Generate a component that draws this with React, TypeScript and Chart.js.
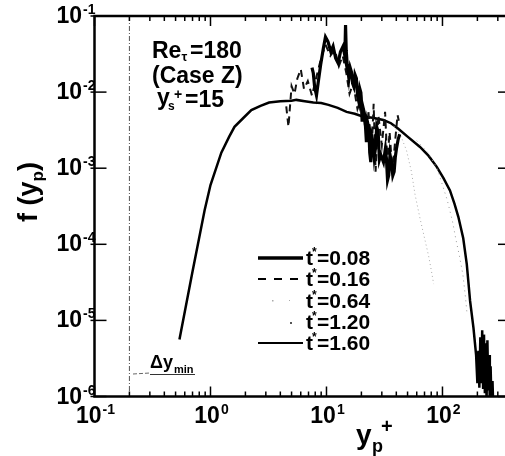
import React, { useEffect, useRef } from 'react';
import { Chart, registerables } from 'chart.js';
Chart.register(...registerables);

// ---- axis ranges / ticks ----
const X_MIN = 0.1;
const X_MAX = 360;
const Y_MIN = 1e-6;
const Y_MAX = 0.1;
const X_DECADES = [-1, 0, 1, 2];
const Y_DECADES = [-1, -2, -3, -4, -5, -6];
const DY_MIN = 0.2;

// ---- series labels ----
const T_LABELS = ['0.08', '0.16', '0.64', '1.20', '1.60'];

// ---- t*=0.08 (thick solid) ----
const t008X = [7.5, 7.7, 7.9, 8.2, 8.5, 8.9, 9.4, 9.8, 10.3, 10.9, 11.4, 12.0, 12.6, 13.2, 13.9, 14.4, 14.6, 14.8, 15.1, 15.6, 16.0, 16.4, 16.8, 17.2, 17.6, 18.1, 18.5, 19.0, 19.4, 19.8, 20.3, 20.8, 21.4, 22.1, 22.6, 23.2, 23.6, 24.1, 24.6, 25.2, 25.8, 26.4, 27.1, 27.9, 28.6, 29.4, 31.0, 32.2, 32.9, 33.6, 34.4, 35.3, 36.3, 37.3, 38.3, 39.2, 40.1, 41.5, 42.8];
const t008Y = [0.021, 0.0177, 0.0118, 0.0091, 0.0137, 0.0227, 0.0376, 0.053, 0.046, 0.034, 0.040, 0.0278, 0.024, 0.034, 0.040, 0.030, 0.076, 0.035, 0.0227, 0.0152, 0.021, 0.0185, 0.013, 0.0118, 0.017, 0.0152, 0.009, 0.0075, 0.011, 0.0098, 0.0041, 0.006, 0.005, 0.0022, 0.004, 0.0033, 0.0016, 0.0012, 0.0026, 0.0022, 0.0014, 0.0018, 0.0035, 0.003, 0.0013, 0.0015, 0.0012, 0.0018, 0.0013, 0.0007, 0.00081, 0.0015, 0.0012, 0.0008, 0.0009, 0.0014, 0.0018, 0.0024, 0.0028];

// ---- t*=0.16 (dashed) ----
const t016X = [4.5, 4.7, 5.0, 5.3, 5.6, 6.0, 6.4, 6.9, 7.5, 8.2, 9.0, 9.8, 10.8, 11.8, 12.8, 13.8, 14.8, 15.8, 17.0, 18.5, 20, 21.5, 23, 24.5, 25.5, 26.5, 28, 30, 32, 33.5, 35, 37, 39, 41, 42];
const t016Y = [6.5e-3, 3.5e-3, 0.012, 0.0095, 0.015, 0.02, 0.011, 0.014, 0.009, 0.016, 0.028, 0.042, 0.03, 0.036, 0.022, 0.03, 0.018, 0.0095, 0.013, 0.006, 0.0085, 0.0035, 0.0055, 0.0016, 0.007, 0.0009, 0.005, 0.002, 0.0055, 0.0012, 0.003, 0.0009, 0.0022, 0.005, 0.0042];

// ---- t*=0.64 (dotted) ----
const t064X = [38, 44, 49, 54, 58, 64, 71, 76, 80, 84];
const t064Y = [3.6e-3, 2.6e-3, 1.7e-3, 9e-4, 4.5e-4, 2.2e-4, 1.1e-4, 7e-5, 4.6e-5, 3e-5];

// ---- t*=1.20 (dotted) ----
const t120X = [60, 75, 90, 100, 110, 122, 130, 140, 150, 158, 163];
const t120Y = [2.3e-3, 1.6e-3, 1e-3, 6e-4, 3.8e-4, 2e-4, 1.2e-4, 7e-5, 4e-5, 2e-5, 1.2e-5];

// ---- t*=1.60 (thin solid) ----
const t160X = [0.54, 0.7, 0.89, 1.0, 1.24, 1.45, 1.61, 1.9, 2.25, 2.7, 3.2, 4.0, 5.0, 5.5, 6.5, 7.7, 9.0, 10.4, 12.5, 14.9, 17.5, 20.8, 25, 30.9, 36, 41.6, 50, 64, 76, 89, 102, 116, 127, 137, 151, 162, 173, 185, 195, 200, 204, 208, 212, 216, 220, 224, 228, 232, 236, 240, 244, 248, 252, 256, 260, 265, 270, 276];
const t160Y = [5.6e-6, 4.4e-5, 2.8e-4, 6e-4, 1.6e-3, 2.6e-3, 3.5e-3, 4.5e-3, 5.8e-3, 6.6e-3, 7.3e-3, 7.6e-3, 7.7e-3, 7.9e-3, 7.6e-3, 7.3e-3, 7.2e-3, 6.8e-3, 6.2e-3, 5.5e-3, 5.2e-3, 4.75e-3, 4.6e-3, 4.3e-3, 3.9e-3, 3.3e-3, 2.6e-3, 1.9e-3, 1.45e-3, 1.05e-3, 7.4e-4, 5.1e-4, 3.4e-4, 2.3e-4, 1.2e-4, 5.5e-5, 1.8e-5, 8e-6, 3.5e-6, 1.5e-6, 4e-6, 1.3e-6, 6e-6, 1.5e-6, 7.4e-6, 1.3e-6, 6.5e-6, 1.1e-6, 5e-6, 9e-7, 5.5e-6, 1.2e-6, 3.5e-6, 8e-7, 2.5e-6, 7e-7, 1.6e-6, 5e-7];

const FONT = '"Liberation Sans", Arial, sans-serif';

function zip(xs: number[], ys: number[]) {
  const n = Math.min(xs.length, ys.length);
  const out: { x: number; y: number }[] = [];
  for (let i = 0; i < n; i++) out.push({ x: xs[i], y: ys[i] });
  return out;
}

function hline(ctx: CanvasRenderingContext2D, x1: number, y1: number, x2: number, y2: number) {
  ctx.beginPath();
  ctx.moveTo(x1, y1);
  ctx.lineTo(x2, y2);
  ctx.stroke();
}

function drawPow(ctx: CanvasRenderingContext2D, exp: string, x: number, base: number, align: 'center' | 'right') {
  ctx.textAlign = 'left';
  ctx.textBaseline = 'alphabetic';
  ctx.font = `bold 23px ${FONT}`;
  const w1 = ctx.measureText('10').width;
  ctx.font = `bold 14px ${FONT}`;
  const w2 = ctx.measureText(exp).width;
  const total = w1 + w2 + 1;
  const x0 = align === 'center' ? x - total / 2 + 1 : x - total;
  ctx.font = `bold 23px ${FONT}`;
  ctx.fillText('10', x0, base);
  ctx.font = `bold 14px ${FONT}`;
  ctx.fillText(exp, x0 + w1 + 1, base - 9);
}

const decor = {
  id: 'decor',
  beforeDatasetsDraw(chart: any) {
    const { ctx, chartArea: a, scales } = chart;
    const xd = scales.x.getPixelForValue(DY_MIN);
    ctx.save();
    ctx.strokeStyle = '#555';
    ctx.lineWidth = 1;
    ctx.setLineDash([5, 2, 1, 2]);
    hline(ctx, xd, a.top, xd, a.bottom);
    ctx.restore();
  },
  afterDraw(chart: any) {
    const { ctx, chartArea: a, scales } = chart;
    const xs = scales.x;
    const ys = scales.y;
    ctx.save();
    ctx.fillStyle = '#000';
    ctx.strokeStyle = '#000';

    // frame
    ctx.lineWidth = 2.5;
    ctx.strokeRect(a.left, a.top, a.right - a.left, a.bottom - a.top);

    // x ticks (bottom & top, inward)
    ctx.lineWidth = 1.5;
    for (const d of X_DECADES) {
      for (let k = 1; k <= 9; k++) {
        const v = k * Math.pow(10, d);
        if (v < X_MIN || v > X_MAX) continue;
        const px = xs.getPixelForValue(v);
        const len = k === 1 ? 10 : 5;
        hline(ctx, px, a.bottom, px, a.bottom - len);
        hline(ctx, px, a.top, px, a.top + len);
      }
    }
    // y ticks
    for (const d of Y_DECADES) {
      const py = ys.getPixelForValue(Math.pow(10, d));
      hline(ctx, a.left - 4, py, a.left + 12, py);
      hline(ctx, a.right, py, a.right - 9, py);
    }

    // tick labels
    for (const d of X_DECADES) {
      const px = xs.getPixelForValue(Math.pow(10, d));
      drawPow(ctx, String(d), px, 423, 'center');
    }
    for (const d of Y_DECADES) {
      const py = ys.getPixelForValue(Math.pow(10, d));
      drawPow(ctx, String(d), a.left + 1, py + 7, 'right');
    }

    ctx.textAlign = 'left';
    ctx.textBaseline = 'alphabetic';

    // x title: y_p^+
    ctx.font = `bold 28px ${FONT}`;
    ctx.fillText('y', 356, 444);
    ctx.font = `bold 18px ${FONT}`;
    ctx.fillText('p', 372, 452);
    ctx.font = `bold 20px ${FONT}`;
    ctx.fillText('+', 381, 433);

    // y title: f (y_p)
    ctx.save();
    ctx.translate(37, 222);
    ctx.rotate(-Math.PI / 2);
    ctx.font = `bold 27px ${FONT}`;
    let cx = 0;
    ctx.fillText('f (y', cx, 0);
    cx += ctx.measureText('f (y').width;
    ctx.font = `bold 17px ${FONT}`;
    ctx.fillText('p', cx, 6);
    cx += ctx.measureText('p').width;
    ctx.font = `bold 27px ${FONT}`;
    ctx.fillText(')', cx, 0);
    ctx.restore();

    // annotation block
    ctx.font = `bold 23px ${FONT}`;
    ctx.fillText('Re', 152, 58);
    const rx = 152 + ctx.measureText('Re').width;
    ctx.font = `bold 13px ${FONT}`;
    ctx.fillText('τ', rx, 61);
    ctx.font = `bold 23px ${FONT}`;
    ctx.fillText('=180', 190, 58);
    ctx.fillText('(Case Z)', 152, 83);
    ctx.fillText('y', 157, 105);
    ctx.font = `bold 12px ${FONT}`;
    ctx.fillText('s', 168, 110);
    ctx.font = `bold 14px ${FONT}`;
    ctx.fillText('+', 174, 99);
    ctx.font = `bold 23px ${FONT}`;
    ctx.fillText('=15', 185, 107);

    // Δy_min annotation
    ctx.font = `bold 18px ${FONT}`;
    ctx.fillText('Δy', 150, 368);
    const wdy = ctx.measureText('Δy').width;
    ctx.font = `bold 11px ${FONT}`;
    ctx.fillText('min', 150 + wdy + 1, 373);
    ctx.lineWidth = 1;
    ctx.strokeStyle = '#333';
    hline(ctx, 150, 374.5, 195, 374.5);
    ctx.setLineDash([4, 2]);
    ctx.strokeStyle = '#666';
    hline(ctx, 133, 374, 150, 373);
    ctx.setLineDash([]);

    // legend
    const rows = [258, 279, 301, 322, 343];
    const sx1 = 258;
    const sx2 = 303;
    rows.forEach((ry, i) => {
      ctx.strokeStyle = '#000';
      if (i === 0) {
        ctx.lineWidth = 3.5;
        hline(ctx, sx1, ry, sx2, ry);
      } else if (i === 1) {
        ctx.lineWidth = 2;
        ctx.setLineDash([8, 8]);
        hline(ctx, sx1, ry, sx2, ry);
        ctx.setLineDash([]);
      } else if (i === 2) {
        ctx.fillStyle = '#aaa';
        ctx.fillRect(272, ry - 1, 1.5, 1.5);
        ctx.fillRect(289, ry - 1, 1, 1);
        ctx.fillStyle = '#000';
      } else if (i === 3) {
        ctx.fillStyle = '#555';
        ctx.fillRect(290, ry, 2, 2);
        ctx.fillStyle = '#000';
      } else {
        ctx.lineWidth = 2;
        hline(ctx, sx1, ry, sx2, ry);
      }
      const base = ry + 7;
      ctx.font = `bold 21px ${FONT}`;
      ctx.fillText('t', 306, base);
      const wt = ctx.measureText('t').width;
      ctx.font = `bold 12px ${FONT}`;
      ctx.fillText('*', 306 + wt - 1, base - 9);
      ctx.font = `bold 21px ${FONT}`;
      ctx.fillText('=' + T_LABELS[i], 306 + wt + 4, base);
    });

    ctx.restore();
  },
};

export default function App() {
  const ref = useRef<HTMLCanvasElement | null>(null);
  useEffect(() => {
    if (!ref.current) return;
    const chart = new Chart(ref.current, {
      type: 'scatter',
      data: {
        datasets: [
          {
            label: 't*=' + T_LABELS[0],
            data: zip(t008X, t008Y),
            showLine: true,
            borderColor: '#000',
            borderWidth: 3.2,
            pointRadius: 0,
          },
          {
            label: 't*=' + T_LABELS[1],
            data: zip(t016X, t016Y),
            showLine: true,
            borderColor: '#111',
            borderWidth: 2,
            borderDash: [7, 5],
            pointRadius: 0,
          },
          {
            label: 't*=' + T_LABELS[2],
            data: zip(t064X, t064Y),
            showLine: true,
            borderColor: '#aaa',
            borderWidth: 1,
            borderDash: [1, 3],
            pointRadius: 0,
          },
          {
            label: 't*=' + T_LABELS[3],
            data: zip(t120X, t120Y),
            showLine: true,
            borderColor: '#999',
            borderWidth: 1,
            borderDash: [1, 4],
            pointRadius: 0,
          },
          {
            label: 't*=' + T_LABELS[4],
            data: zip(t160X, t160Y),
            showLine: true,
            borderColor: '#000',
            borderWidth: 2.5,
            pointRadius: 0,
          },
        ],
      },
      options: {
        responsive: false,
        animation: false,
        devicePixelRatio: 1,
        layout: { padding: { left: 94.5, top: 16, right: 13, bottom: 59.5 } },
        plugins: { legend: { display: false }, tooltip: { enabled: false } },
        scales: {
          x: { type: 'logarithmic', display: false, min: X_MIN, max: X_MAX },
          y: { type: 'logarithmic', display: false, min: Y_MIN, max: Y_MAX },
        },
      },
      plugins: [decor],
    });
    return () => chart.destroy();
  }, []);
  return (
    <div style={{ position: 'fixed', left: 0, top: 0, width: 505, height: 456, overflow: 'hidden', background: '#fff' }}>
      <canvas ref={ref} width={520} height={456} style={{ width: 520, height: 456, display: 'block' }} />
    </div>
  );
}
